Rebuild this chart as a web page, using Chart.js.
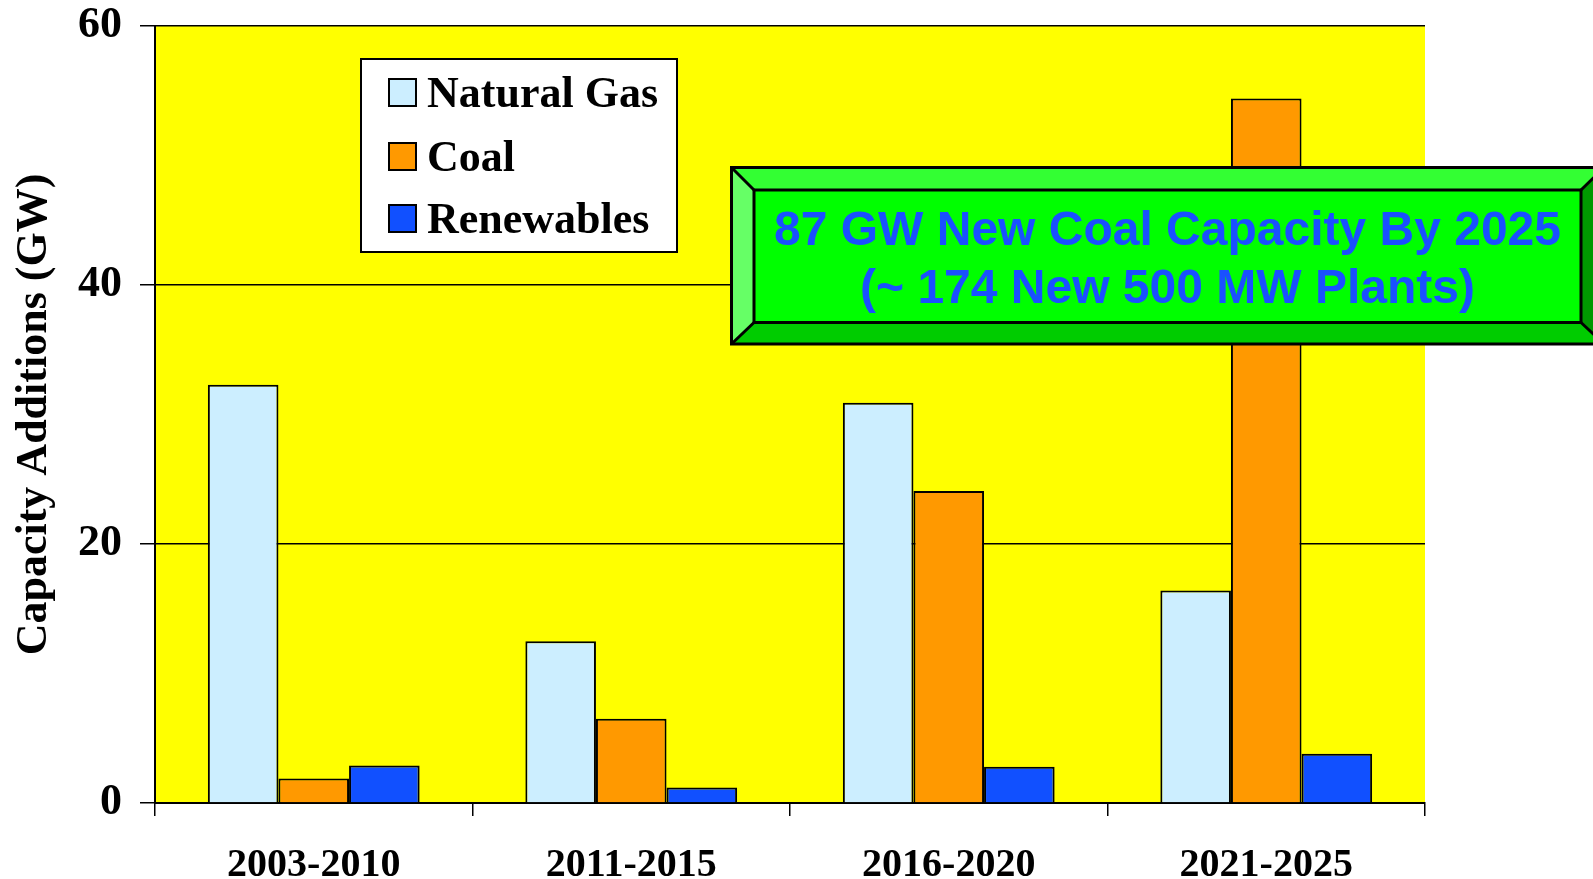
<!DOCTYPE html>
<html>
<head>
<meta charset="utf-8">
<script src="https://cdn.jsdelivr.net/npm/chart.js@4/dist/chart.umd.min.js"></script>
<style>
  body { margin: 0; background: #ffffff; }
  #wrap { width: 1593px; height: 879px; }
</style>
</head>
<body>
<div id="wrap"><canvas id="capChart" width="1593" height="879"></canvas></div>
<script>
var periods = ['2003-2010', '2011-2015', '2016-2020', '2021-2025'];
var naturalGas = [32.3, 12.5, 30.9, 16.4];
var coal = [1.9, 6.5, 24.1, 54.4];
var renewables = [2.9, 1.2, 2.8, 3.8];
var yTicks = [0, 20, 40, 60];
var noteLines = ['87 GW New Coal Capacity By 2025', '(~ 174 New 500 MW Plants)'];

Chart.defaults.font.family = "'Liberation Serif', 'Times New Roman', serif";
Chart.defaults.color = '#000000';

// yellow plot area
var plotBackground = {
    id: 'plotBackground',
    beforeDraw: function(chart) {
        var a = chart.chartArea;
        var ctx = chart.ctx;
        ctx.save();
        ctx.fillStyle = '#ffff00';
        ctx.fillRect(a.left, a.top, a.right - a.left, a.bottom - a.top);
        ctx.restore();
    }
};

// boxed legend in the upper left of the plot
var boxLegend = {
    id: 'boxLegend',
    afterDraw: function(chart) {
        var ctx = chart.ctx;
        var x = 361, y = 59, w = 316, h = 193;
        ctx.save();
        ctx.fillStyle = '#ffffff';
        ctx.fillRect(x, y, w, h);
        ctx.strokeStyle = '#000000';
        ctx.lineWidth = 2;
        ctx.strokeRect(x, y, w, h);
        var rows = [33, 97, 159];
        ctx.font = "bold 44px 'Liberation Serif'";
        ctx.textBaseline = 'alphabetic';
        chart.data.datasets.forEach(function(ds, i) {
            var cy = y + rows[i];
            ctx.fillStyle = ds.backgroundColor;
            ctx.fillRect(x + 28, cy - 13, 27, 27);
            ctx.lineWidth = 2;
            ctx.strokeRect(x + 28, cy - 13, 27, 27);
            ctx.fillStyle = '#000000';
            ctx.fillText(ds.label, x + 66, cy + 15);
        });
        ctx.restore();
    }
};

// bevelled green note box
var noteBox = {
    id: 'noteBox',
    afterDraw: function(chart) {
        var ctx = chart.ctx;
        var ox1 = 731.5, oy1 = 167.5, ox2 = 1604, oy2 = 344;
        var ix1 = 754, iy1 = 190, ix2 = 1581, iy2 = 322.5;
        function poly(pts, fill) {
            ctx.beginPath();
            ctx.moveTo(pts[0][0], pts[0][1]);
            for (var i = 1; i < pts.length; i++) ctx.lineTo(pts[i][0], pts[i][1]);
            ctx.closePath();
            ctx.fillStyle = fill;
            ctx.fill();
        }
        ctx.save();
        ctx.fillStyle = '#00ff00';
        ctx.fillRect(ix1, iy1, ix2 - ix1, iy2 - iy1);
        poly([[ox1, oy1], [ox2, oy1], [ix2, iy1], [ix1, iy1]], '#33ff33');
        poly([[ox1, oy1], [ix1, iy1], [ix1, iy2], [ox1, oy2]], '#66ff66');
        poly([[ox1, oy2], [ix1, iy2], [ix2, iy2], [ox2, oy2]], '#00cc00');
        poly([[ox2, oy1], [ix2, iy1], [ix2, iy2], [ox2, oy2]], '#009900');
        ctx.strokeStyle = '#000000';
        ctx.lineWidth = 3;
        ctx.strokeRect(ox1, oy1, ox2 - ox1, oy2 - oy1);
        ctx.strokeRect(ix1, iy1, ix2 - ix1, iy2 - iy1);
        ctx.beginPath();
        ctx.moveTo(ox1, oy1); ctx.lineTo(ix1, iy1);
        ctx.moveTo(ox1, oy2); ctx.lineTo(ix1, iy2);
        ctx.moveTo(ox2, oy1); ctx.lineTo(ix2, iy1);
        ctx.moveTo(ox2, oy2); ctx.lineTo(ix2, iy2);
        ctx.stroke();
        ctx.fillStyle = '#1a50ff';
        ctx.font = "bold 48px 'Liberation Sans'";
        ctx.textAlign = 'center';
        ctx.textBaseline = 'alphabetic';
        ctx.fillText(noteLines[0], (ix1 + ix2) / 2, 245);
        ctx.fillText(noteLines[1], (ix1 + ix2) / 2, 303);
        ctx.restore();
    }
};

var ctx = document.getElementById('capChart').getContext('2d');
var capChart = new Chart(ctx, {
    type: 'bar',
    data: {
        labels: periods,
        datasets: [
            { label: 'Natural Gas', data: naturalGas, backgroundColor: '#cceeff' },
            { label: 'Coal', data: coal, backgroundColor: '#ff9900' },
            { label: 'Renewables', data: renewables, backgroundColor: '#1150ff' }
        ]
    },
    options: {
        responsive: false,
        animation: false,
        layout: { padding: { left: 0, top: 26, right: 168, bottom: 0 } },
        datasets: {
            bar: {
                borderColor: '#000000',
                borderWidth: 2,
                barPercentage: 1.0,
                categoryPercentage: 0.667
            }
        },
        scales: {
            x: {
                grid: {
                    display: true,
                    drawOnChartArea: false,
                    drawTicks: true,
                    tickLength: 13,
                    color: '#000000',
                    lineWidth: 1.5
                },
                border: { display: true, color: '#000000', width: 2 },
                ticks: {
                    font: { size: 40, weight: 'bold' },
                    color: '#000000',
                    padding: 26,
                    maxRotation: 0
                },
                afterFit: function(scale) {
                    scale.height = 76;
                    scale.paddingLeft = 0;
                    scale.paddingRight = 0;
                }
            },
            y: {
                min: 0,
                max: 60,
                afterBuildTicks: function(scale) {
                    scale.ticks = yTicks.map(function(v) { return { value: v }; });
                },
                grid: {
                    color: '#000000',
                    lineWidth: 1.5,
                    drawTicks: true,
                    tickLength: 15
                },
                border: { display: true, color: '#000000', width: 2 },
                ticks: {
                    font: { size: 44, weight: 'bold' },
                    color: '#000000',
                    padding: 18
                },
                title: {
                    display: true,
                    text: 'Capacity Additions (GW)',
                    font: { size: 44, weight: 'bold' },
                    color: '#000000',
                    padding: { top: 8, bottom: 0 }
                },
                afterFit: function(scale) {
                    scale.width = 155;
                    scale.paddingTop = 0;
                    scale.paddingBottom = 0;
                }
            }
        },
        plugins: {
            legend: { display: false },
            tooltip: { enabled: false }
        }
    },
    plugins: [plotBackground, boxLegend, noteBox]
});
</script>
</body>
</html>
